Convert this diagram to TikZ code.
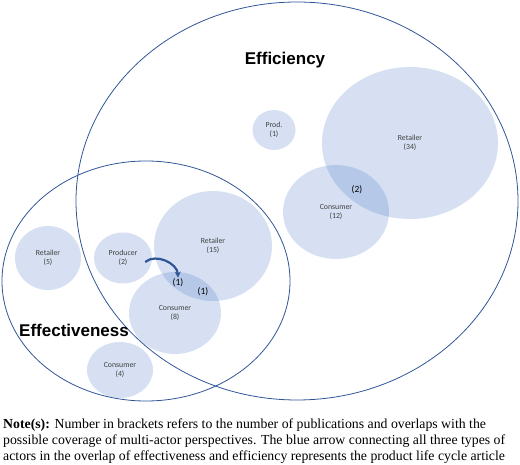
\documentclass[tikz,border=0pt]{standalone}
\usepackage{fontspec}
\setmainfont{Liberation Serif}
\newfontfamily\calibrifont{Carlito}
\newfontfamily\arialfont{Liberation Sans}
\usepackage{xcolor}
\usetikzlibrary{positioning, arrows.meta, shapes.geometric}
\definecolor{RingBlue}{HTML}{2F5597}
\definecolor{BubbleBlue}{HTML}{4472C4}
\definecolor{ArrowBlue}{HTML}{2F5597}
\definecolor{LabelGrey}{HTML}{404040}

\begin{document}
\begin{tikzpicture}[
  x=1pt, y=-1pt,
  >=Stealth,
  ring/.style={ellipse, draw=RingBlue, line width=0.8pt, inner sep=0pt},
  bubble/.style={ellipse, fill=BubbleBlue, fill opacity=0.22, text opacity=1,
                 inner sep=0pt, align=center, text=LabelGrey,
                 font=\calibrifont\fontsize{7.8}{9.5}\selectfont},
  overlap/.style={font=\calibrifont\fontsize{9.5}{11}\selectfont, text=black,
                  inner sep=1pt},
  title/.style={font=\arialfont\bfseries\fontsize{17}{20}\selectfont},
  lcarr/.style={-{Stealth[length=6pt, width=6pt]}, line width=2.2pt, color=ArrowBlue},
]
  \useasboundingbox (0,0) rectangle (520,465);

  % Efficiency: large ring, right
  \node[ring, minimum width=442pt, minimum height=398pt] (EFF) at (297,201) {};
  \node[title] (EFFt) at (285,60) {Efficiency};

  % Effectiveness: smaller ring, left
  \node[ring, minimum width=288pt, minimum height=240pt] (EFT) at (146,281) {};
  \node[title] (EFTt) at (74,330) {Effectiveness};

  %% actors in efficiency only
  \node[bubble, minimum width=43pt, minimum height=40pt] (Prod1) at (274,130) {Prod.\\(1)};
  \node[bubble, minimum width=176pt, minimum height=152pt] (Ret34) at (410,143) {Retailer\\(34)};
  \node[bubble, minimum width=106pt, minimum height=94pt] (Con12) at (336,212) {Consumer\\(12)};
  \node[overlap] (ov2) at (357,190) {(2)};

  %% actors in effectiveness only
  \node[bubble, minimum width=66pt, minimum height=64pt] (Ret5) at (48,258) {Retailer\\(5)};
  \node[bubble, minimum width=66pt, minimum height=56pt] (Con4) at (120,370) {Consumer\\(4)};

  %% actors in the overlap
  \node[bubble, minimum width=58pt, minimum height=51pt] (Prod2) at (123,258) {Producer\\(2)};
  \node[bubble, minimum width=118pt, minimum height=110pt] (Ret15) at (213,246) {Retailer\\(15)};
  \node[bubble, minimum width=92pt, minimum height=82pt] (Con8) at (175,313) {Consumer\\(8)};
  \node[overlap] (ov1a) at (178,283) {(1)};
  \node[overlap] (ov1b) at (203,292) {(1)};

  % product life cycle arrow
  \draw[lcarr] ([xshift=-7pt, yshift=-4pt]Prod2.east) to[out=40, in=92] (ov1a.north);

  % note
  \node[anchor=north west, align=left, inner sep=0pt,
        font=\fontsize{13.8}{16}\selectfont] (note) at (3,418.5)
    {\textbf{Note(s):} Number in brackets refers to the number of publications and overlaps with the\\
     possible coverage of multi-actor perspectives. The blue arrow connecting all three types of\\
     actors in the overlap of effectiveness and efficiency represents the product life cycle article};

\end{tikzpicture}
\end{document}
